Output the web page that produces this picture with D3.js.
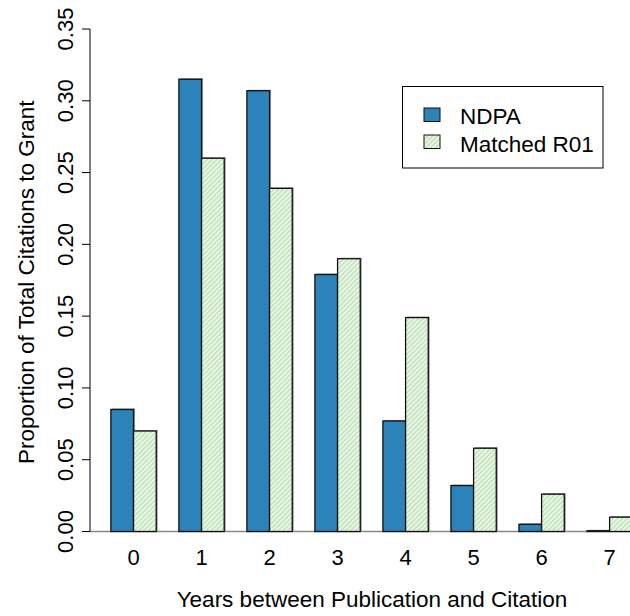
<!DOCTYPE html>
<html>
<head>
<meta charset="utf-8">
<script src="https://cdn.jsdelivr.net/npm/d3@7"></script>
<style>
  body { margin: 0; background: #fff; }
  svg { display: block; font-family: "Liberation Sans", Arial, sans-serif; }
</style>
</head>
<body>
<div id="chart"></div>
<script>
const years = ["0", "1", "2", "3", "4", "5", "6", "7"];
const series = ["NDPA", "Matched R01"];
const ndpa = [0.085, 0.315, 0.307, 0.179, 0.077, 0.032, 0.005, 0.0005];
const matchedR01 = [0.070, 0.260, 0.239, 0.190, 0.149, 0.058, 0.026, 0.010];
const yTicks = [0, 0.05, 0.10, 0.15, 0.20, 0.25, 0.30, 0.35];

const W = 630, H = 616;
const svg = d3.select("#chart").append("svg")
    .attr("width", W)
    .attr("height", H);

// hatch for the R01 bars
const defs = svg.append("defs");
const pat = defs.append("pattern")
    .attr("id", "hatch")
    .attr("patternUnits", "userSpaceOnUse")
    .attr("width", 3.4)
    .attr("height", 3.4)
    .attr("patternTransform", "rotate(-45)");
pat.append("rect").attr("width", 3.4).attr("height", 3.4).attr("fill", "#f3faf1");
pat.append("rect").attr("width", 3.4).attr("height", 1.9).attr("fill", "#c3e4bd");

// x in barplot units: each group = 1 gap + 2 bars
const x = d3.scaleLinear().domain([0, 24]).range([88.2, 88.2 + 24 * 22.67]);
const y = d3.scaleLinear().domain([0, 0.35]).range([531.5, 29]);

// baseline
svg.append("line")
    .attr("x1", 90).attr("x2", W)
    .attr("y1", y(0)).attr("y2", y(0))
    .attr("stroke", "#888").attr("stroke-width", 1.5);

// Y axis
const yAxis = svg.append("g").attr("transform", "translate(90,0)");
yAxis.append("line")
    .attr("y1", y(0)).attr("y2", y(0.35))
    .attr("stroke", "#000");
yAxis.selectAll("line.tick").data(yTicks).enter().append("line")
    .attr("class", "tick")
    .attr("x1", 0).attr("x2", -8)
    .attr("y1", d => y(d)).attr("y2", d => y(d))
    .attr("stroke", "#000");
yAxis.selectAll("text").data(yTicks).enter().append("text")
    .attr("transform", d => `translate(-17,${y(d)}) rotate(-90)`)
    .attr("text-anchor", "middle")
    .attr("font-size", "22px")
    .text(d => d.toFixed(2));

svg.append("text")
    .attr("transform", `translate(34,${(y(0) + y(0.35)) / 2 + 2}) rotate(-90)`)
    .attr("text-anchor", "middle")
    .attr("font-size", "22.5px")
    .text("Proportion of Total Citations to Grant");

// bars
const groups = [
    { name: series[0], values: ndpa, fill: "#2b83ba", off: 1 },
    { name: series[1], values: matchedR01, fill: "url(#hatch)", off: 2 }
];

groups.forEach(g => {
    const bars = svg.append("g");
    // faint grey shadow like the original rendering
    bars.selectAll("rect.sh").data(g.values).enter().append("rect")
        .attr("class", "sh")
        .attr("x", (d, i) => x(3 * i + g.off) + 1.5)
        .attr("y", d => y(d) - 1)
        .attr("width", x(1) - x(0))
        .attr("height", d => y(0) - y(d) + 1)
        .attr("fill", "#999");
    bars.selectAll("rect.bar").data(g.values).enter().append("rect")
        .attr("class", "bar")
        .attr("x", (d, i) => x(3 * i + g.off))
        .attr("y", d => y(d))
        .attr("width", x(1) - x(0))
        .attr("height", d => y(0) - y(d))
        .attr("fill", g.fill)
        .attr("stroke", "#111")
        .attr("stroke-width", 1.3);
});

// x tick labels (group centres)
svg.selectAll("text.xl").data(years).enter().append("text")
    .attr("class", "xl")
    .attr("x", (d, i) => x(3 * i + 2))
    .attr("y", 565)
    .attr("text-anchor", "middle")
    .attr("font-size", "22px")
    .text(d => d);

svg.append("text")
    .attr("x", 372)
    .attr("y", 607)
    .attr("text-anchor", "middle")
    .attr("font-size", "22.5px")
    .text("Years between Publication and Citation");

// legend
const lg = svg.append("g");
lg.append("rect")
    .attr("x", 402.5).attr("y", 86.5)
    .attr("width", 200.5).attr("height", 81.5)
    .attr("fill", "#fff").attr("stroke", "#000");
groups.forEach((g, i) => {
    lg.append("rect")
        .attr("x", 424).attr("y", 108 + i * 27)
        .attr("width", 16).attr("height", 13.5)
        .attr("fill", g.fill)
        .attr("stroke", "#111");
    lg.append("text")
        .attr("x", 460)
        .attr("y", 124 + i * 28)
        .attr("font-size", "22.5px")
        .text(g.name);
});
</script>
</body>
</html>
